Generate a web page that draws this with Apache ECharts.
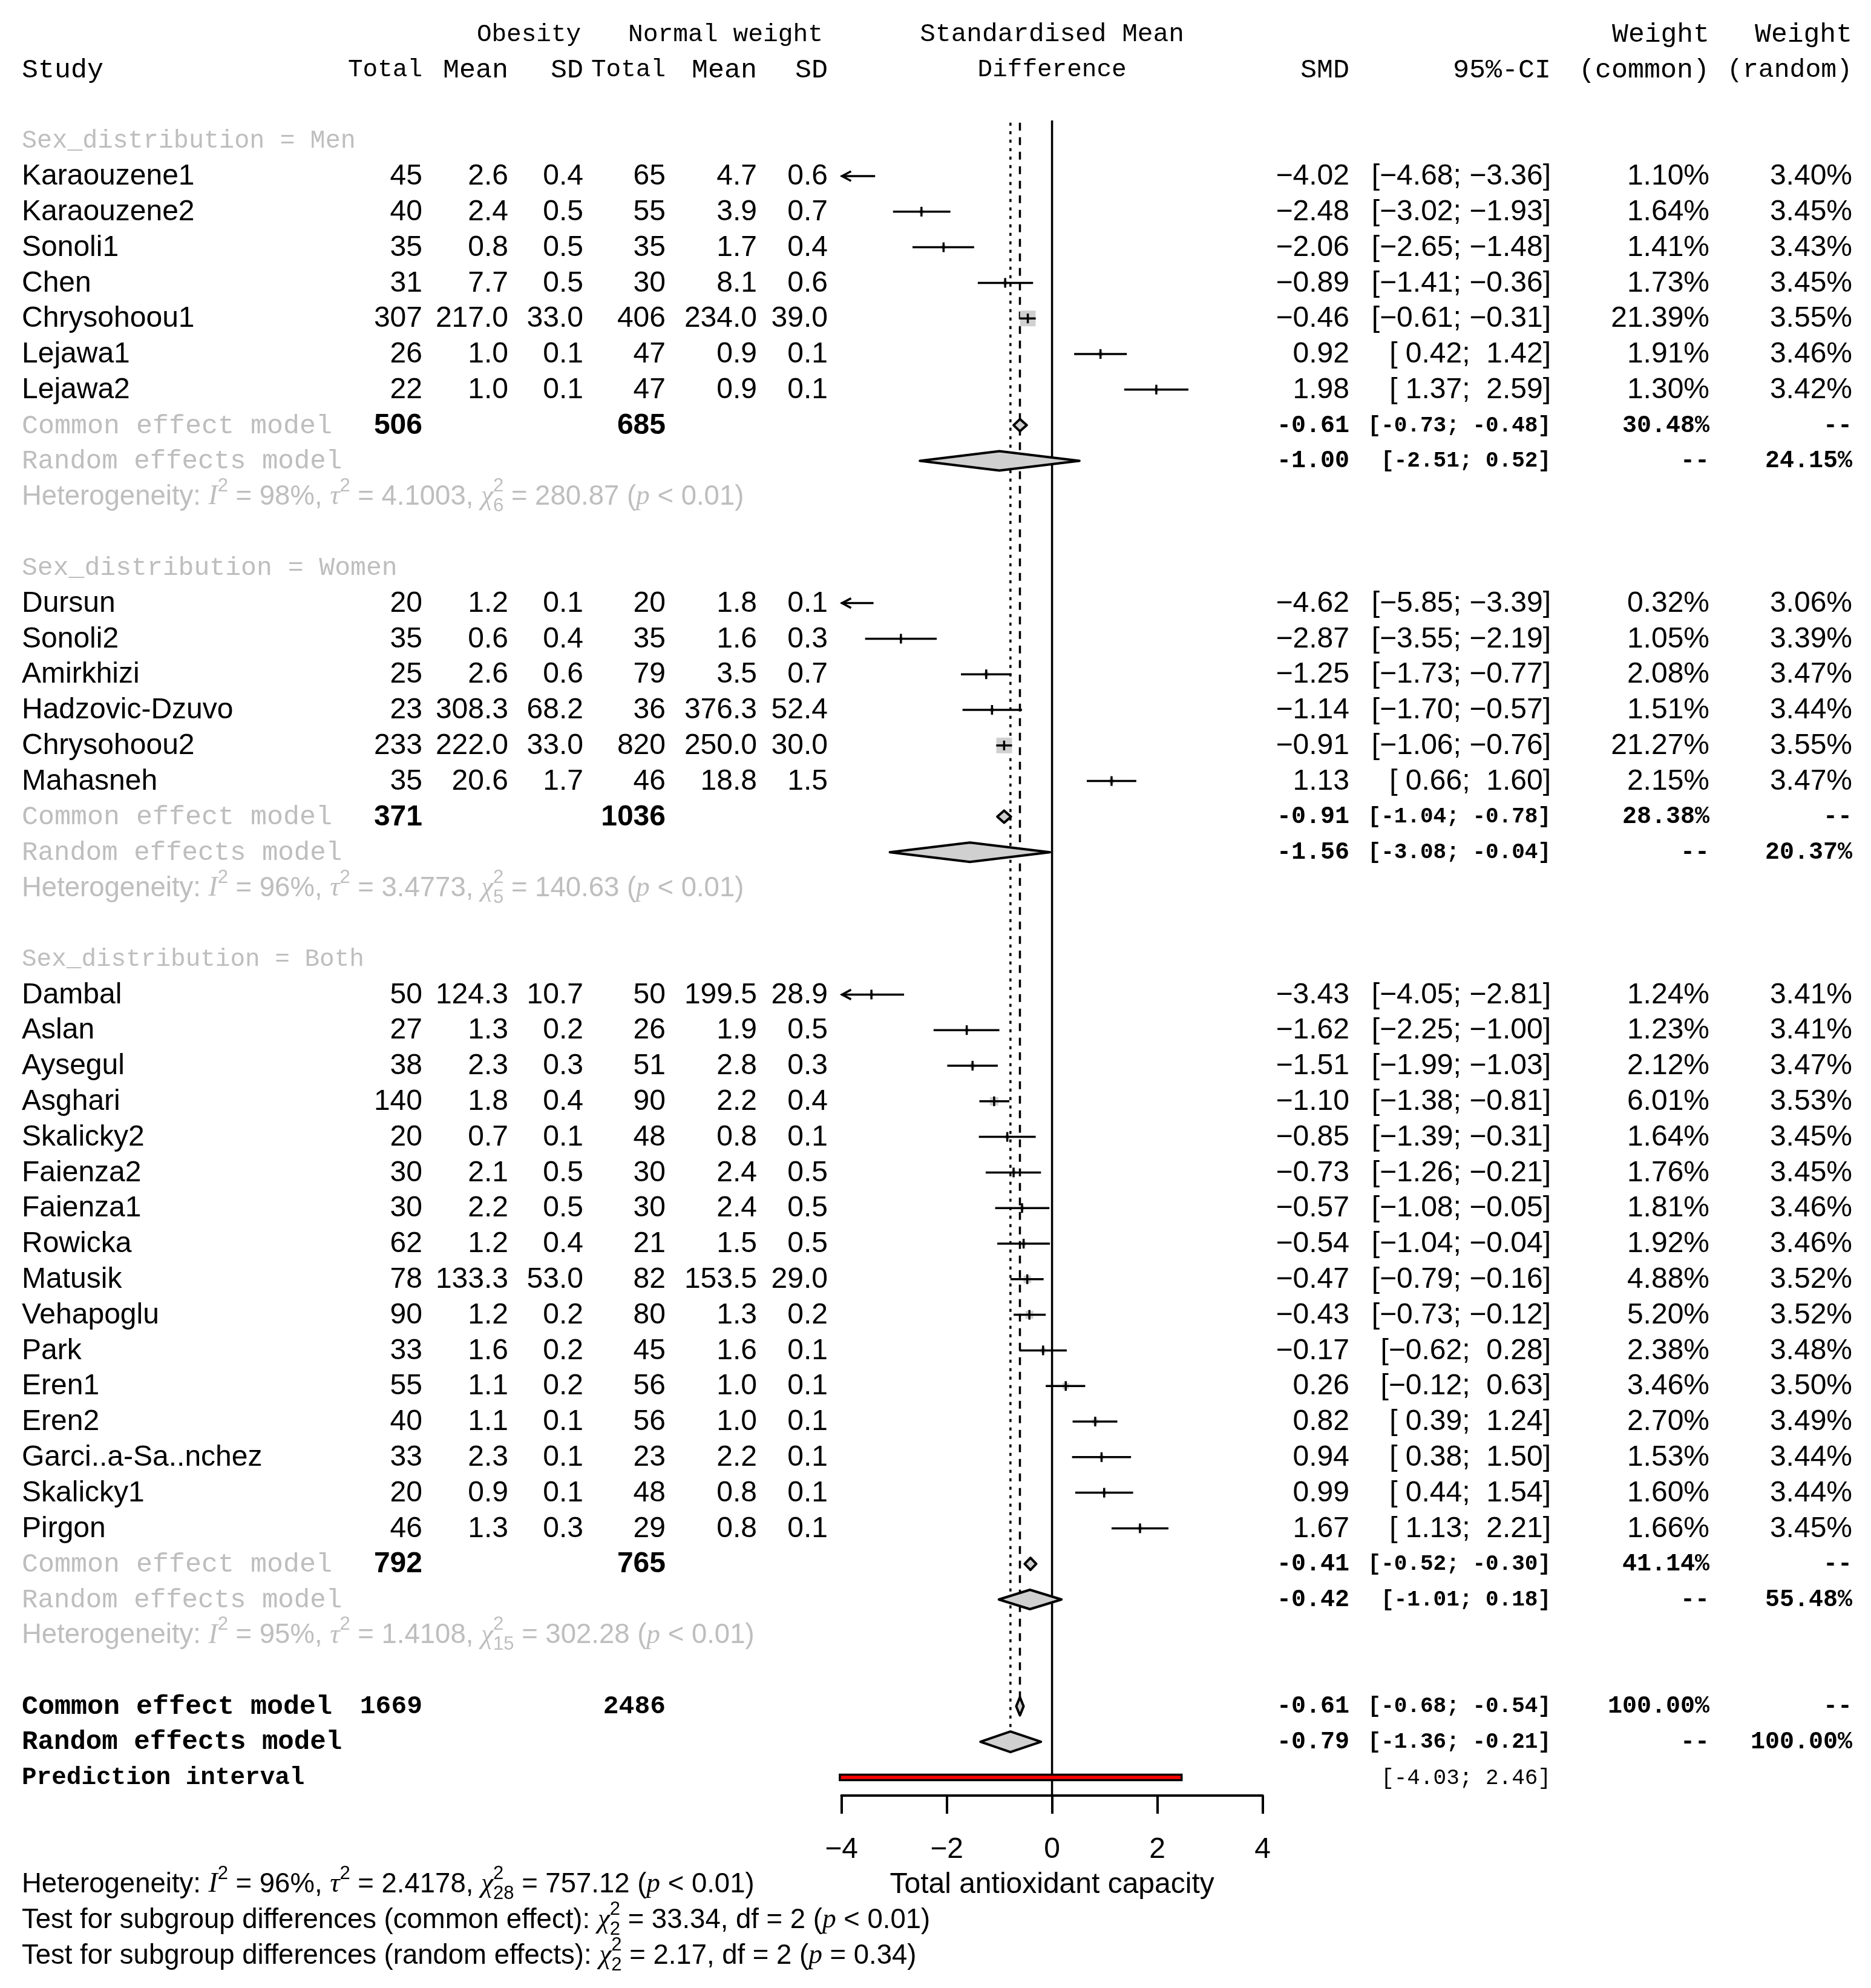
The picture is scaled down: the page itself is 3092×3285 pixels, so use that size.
<!DOCTYPE html>
<html><head><meta charset="utf-8">
<script src="https://cdn.jsdelivr.net/npm/echarts@6/dist/echarts.min.js"></script>
<style>html,body{margin:0;padding:0;background:#fff}#c{width:3092px;height:3285px}</style>
</head><body><div id="c"></div>
<script>
// ---------------- DATA ----------------
const studyNames = ['Karaouzene1','Karaouzene2','Sonoli1','Chen','Chrysohoou1','Lejawa1','Lejawa2',
  'Dursun','Sonoli2','Amirkhizi','Hadzovic-Dzuvo','Chrysohoou2','Mahasneh',
  'Dambal','Aslan','Aysegul','Asghari','Skalicky2','Faienza2','Faienza1','Rowicka','Matusik','Vehapoglu','Park','Eren1','Eren2','Garci..a-Sa..nchez','Skalicky1','Pirgon'];
const studyGroup = [0,0,0,0,0,0,0, 1,1,1,1,1,1, 2,2,2,2,2,2,2,2,2,2,2,2,2,2,2,2];
const obsTotal = [45,40,35,31,307,26,22, 20,35,25,23,233,35, 50,27,38,140,20,30,30,62,78,90,33,55,40,33,20,46];
const obsMean = [2.6,2.4,0.8,7.7,217.0,1.0,1.0, 1.2,0.6,2.6,308.3,222.0,20.6, 124.3,1.3,2.3,1.8,0.7,2.1,2.2,1.2,133.3,1.2,1.6,1.1,1.1,2.3,0.9,1.3];
const obsSD = [0.4,0.5,0.5,0.5,33.0,0.1,0.1, 0.1,0.4,0.6,68.2,33.0,1.7, 10.7,0.2,0.3,0.4,0.1,0.5,0.5,0.4,53.0,0.2,0.2,0.2,0.1,0.1,0.1,0.3];
const nwTotal = [65,55,35,30,406,47,47, 20,35,79,36,820,46, 50,26,51,90,48,30,30,21,82,80,45,56,56,23,48,29];
const nwMean = [4.7,3.9,1.7,8.1,234.0,0.9,0.9, 1.8,1.6,3.5,376.3,250.0,18.8, 199.5,1.9,2.8,2.2,0.8,2.4,2.4,1.5,153.5,1.3,1.6,1.0,1.0,2.2,0.8,0.8];
const nwSD = [0.6,0.7,0.4,0.6,39.0,0.1,0.1, 0.1,0.3,0.7,52.4,30.0,1.5, 28.9,0.5,0.3,0.4,0.1,0.5,0.5,0.5,29.0,0.2,0.1,0.1,0.1,0.1,0.1,0.1];
const smd = [-4.02,-2.48,-2.06,-0.89,-0.46,0.92,1.98, -4.62,-2.87,-1.25,-1.14,-0.91,1.13, -3.43,-1.62,-1.51,-1.10,-0.85,-0.73,-0.57,-0.54,-0.47,-0.43,-0.17,0.26,0.82,0.94,0.99,1.67];
const smdLower = [-4.68,-3.02,-2.65,-1.41,-0.61,0.42,1.37, -5.85,-3.55,-1.73,-1.70,-1.06,0.66, -4.05,-2.25,-1.99,-1.38,-1.39,-1.26,-1.08,-1.04,-0.79,-0.73,-0.62,-0.12,0.39,0.38,0.44,1.13];
const smdUpper = [-3.36,-1.93,-1.48,-0.36,-0.31,1.42,2.59, -3.39,-2.19,-0.77,-0.57,-0.76,1.60, -2.81,-1.00,-1.03,-0.81,-0.31,-0.21,-0.05,-0.04,-0.16,-0.12,0.28,0.63,1.24,1.50,1.54,2.21];
const weightCommon = [1.10,1.64,1.41,1.73,21.39,1.91,1.30, 0.32,1.05,2.08,1.51,21.27,2.15, 1.24,1.23,2.12,6.01,1.64,1.76,1.81,1.92,4.88,5.20,2.38,3.46,2.70,1.53,1.60,1.66];
const weightRandom = [3.40,3.45,3.43,3.45,3.55,3.46,3.42, 3.06,3.39,3.47,3.44,3.55,3.47, 3.41,3.41,3.47,3.53,3.45,3.45,3.46,3.46,3.52,3.52,3.48,3.50,3.49,3.44,3.44,3.45];

const groupLabels = ['Men','Women','Both'];
const groupObsTotal = [506,371,792];
const groupNwTotal = [685,1036,765];
const groupCommonSMD = [-0.61,-0.91,-0.41];
const groupCommonLower = [-0.73,-1.04,-0.52];
const groupCommonUpper = [-0.48,-0.78,-0.30];
const groupCommonWeight = [30.48,28.38,41.14];
const groupRandomSMD = [-1.00,-1.56,-0.42];
const groupRandomLower = [-2.51,-3.08,-1.01];
const groupRandomUpper = [0.52,-0.04,0.18];
const groupRandomWeight = [24.15,20.37,55.48];
const groupI2 = [98,96,95];
const groupTau2 = [4.1003,3.4773,1.4108];
const groupQ = [280.87,140.63,302.28];
const groupDf = [6,5,15];

const overallTotals = [1669,2486];
const overallCommon = [-0.61,-0.68,-0.54];
const overallRandom = [-0.79,-1.36,-0.21];
const predictionInterval = [-4.03,2.46];
const overallHet = {i2:96, tau2:2.4178, q:757.12, df:28, p:'< 0.01'};
const testCommon = {q:33.34, df:2, p:'< 0.01'};
const testRandom = {q:2.17, df:2, p:'= 0.34'};
const xTicks = [-4,-2,0,2,4];
const xAxisTitle = 'Total antioxidant capacity';

// ---------------- LAYOUT / STYLE ----------------
const SANS = '"Liberation Sans", Arial, sans-serif';
const MONO = '"Liberation Mono", "DejaVu Sans Mono", monospace';
const SERIF = '"Liberation Serif", serif';
const GREY = '#BEBEBE', BLACK = '#000000', FILL = '#D0D0D0';
const FS = 48, HFS = 45.5, SUPS = 31;
const F_SANS = FS + 'px ' + SANS, F_SANSB = 'bold ' + FS + 'px ' + SANS;
const F_NUMB = 'bold 40px ' + MONO, F_CIB = 'bold 36px ' + MONO, F_CI = '36px ' + MONO, F_TOTB = 'bold 43px ' + MONO;
const F_HET = HFS + 'px ' + SANS;
const GRID_TOP = 55.8, ROW = 58.8, AXIS_Y = 2967;
const Y_MAX = (AXIS_Y - GRID_TOP) / ROW;
const COL = {study:36, eTot:698, eMean:840, eSD:964, cTot:1100, cMean:1251, cSD:1368,
  obsHead:874, nwHead:1199, mid:1738.6, smd:2230, ci:2563, wc:2825, wr:3061};
const XMIN = xTicks[0], XMAX = xTicks[xTicks.length-1];

// label font: monospace sized so the string spans roughly like the original half/full-width glyph font
const WIDE = 'MWmSRC%';
function labFont(t, bold){
  let em = 0; for (const c of t) em += WIDE.indexOf(c) >= 0 ? 1 : 0.5;
  let s = 46 * em / (0.6 * t.length); s = Math.max(41, Math.min(45, s));
  return (bold ? 'bold ' : '') + s.toFixed(1) + 'px ' + MONO;
}

const mctx = document.createElement('canvas').getContext('2d');
function mw(t, font){ mctx.font = font; return mctx.measureText(t).width; }
const fmtS = v => (v < 0 ? '\u2212' : ' ') + Math.abs(v).toFixed(2);
const fmtCI = (lo, hi) => '[' + fmtS(lo) + '; ' + fmtS(hi) + ']';
const fmtSMD = v => (v < 0 ? '\u2212' : '') + Math.abs(v).toFixed(2);
const fmtM = v => (v < 0 ? '-' : '') + Math.abs(v).toFixed(2);
const fmtMCI = (lo, hi) => '[' + fmtM(lo) + '; ' + fmtM(hi) + ']';

function cell(t, x, align, font, color){ return {t, x, align, font, color: color || BLACK}; }
function lab(t, x, align, color, bold){ return cell(t, x, align, labFont(t, bold), color); }
function hetSegs(prefix, i2, tau2, q, df, p){
  return [{t:prefix},{t:'I',it:1},{sup:'2'},{t:' = '+i2+'%, '},{t:'\u03c4',it:1},{sup:'2'},
    {t:' = '+tau2.toFixed(4)+', '},{t:'\u03c7',it:1},{sup:'2',sub:String(df)},
    {t:' = '+q.toFixed(2)+' ('},{t:'p',it:1},{t:' '+p+')'}];
}
function testSegs(prefix, q, df, p){
  return [{t:prefix},{t:'\u03c7',it:1},{sup:'2',sub:String(df)},
    {t:' = '+q.toFixed(2)+', df = '+df+' ('},{t:'p',it:1},{t:' '+p+')'}];
}

// Build table rows
const rows = [];
const studyRow = [];
const diamonds = []; // [k, est, lo, hi, type]
rows.push({k:0, cells:[lab('Obesity',COL.obsHead,'center'), lab('Normal weight',COL.nwHead,'center'),
  lab('Standardised Mean',COL.mid,'center'), lab('Weight',COL.wc,'right'), lab('Weight',COL.wr,'right')]});
rows.push({k:1, cells:[lab('Study',COL.study,'left'), lab('Total',COL.eTot,'right'), lab('Mean',COL.eMean,'right'),
  lab('SD',COL.eSD,'right'), lab('Total',COL.cTot,'right'), lab('Mean',COL.cMean,'right'), lab('SD',COL.cSD,'right'),
  lab('Difference',COL.mid,'center'), lab('SMD',COL.smd,'right'), lab('95%-CI',COL.ci,'right'),
  lab('(common)',COL.wc,'right'), lab('(random)',COL.wr,'right')]});
let k = 3;
groupLabels.forEach((g, gi) => {
  rows.push({k:k++, cells:[lab('Sex_distribution = ' + g, COL.study, 'left', GREY)]});
  studyNames.forEach((n, i) => {
    if (studyGroup[i] !== gi) return;
    studyRow[i] = k;
    rows.push({k:k++, cells:[cell(n,COL.study,'left',F_SANS), cell(String(obsTotal[i]),COL.eTot,'right',F_SANS),
      cell(obsMean[i].toFixed(1),COL.eMean,'right',F_SANS), cell(obsSD[i].toFixed(1),COL.eSD,'right',F_SANS),
      cell(String(nwTotal[i]),COL.cTot,'right',F_SANS), cell(nwMean[i].toFixed(1),COL.cMean,'right',F_SANS),
      cell(nwSD[i].toFixed(1),COL.cSD,'right',F_SANS), cell(fmtSMD(smd[i]),COL.smd,'right',F_SANS),
      cell(fmtCI(smdLower[i],smdUpper[i]),COL.ci,'right',F_SANS), cell(weightCommon[i].toFixed(2)+'%',COL.wc,'right',F_SANS),
      cell(weightRandom[i].toFixed(2)+'%',COL.wr,'right',F_SANS)]});
  });
  diamonds.push([k, groupCommonSMD[gi], groupCommonLower[gi], groupCommonUpper[gi], 0]);
  rows.push({k:k++, cells:[lab('Common effect model',COL.study,'left',GREY), cell(String(groupObsTotal[gi]),COL.eTot,'right',F_SANSB),
    cell(String(groupNwTotal[gi]),COL.cTot,'right',F_SANSB), cell(fmtM(groupCommonSMD[gi]),COL.smd,'right',F_NUMB),
    cell(fmtMCI(groupCommonLower[gi],groupCommonUpper[gi]),COL.ci,'right',F_CIB),
    cell(groupCommonWeight[gi].toFixed(2)+'%',COL.wc,'right',F_NUMB), cell('--',COL.wr,'right',F_NUMB)]});
  diamonds.push([k, groupRandomSMD[gi], groupRandomLower[gi], groupRandomUpper[gi], 1]);
  rows.push({k:k++, cells:[lab('Random effects model',COL.study,'left',GREY), cell(fmtM(groupRandomSMD[gi]),COL.smd,'right',F_NUMB),
    cell(fmtMCI(groupRandomLower[gi],groupRandomUpper[gi]),COL.ci,'right',F_CIB),
    cell('--',COL.wc,'right',F_NUMB), cell(groupRandomWeight[gi].toFixed(2)+'%',COL.wr,'right',F_NUMB)]});
  rows.push({k:k++, rich:hetSegs('Heterogeneity: ', groupI2[gi], groupTau2[gi], groupQ[gi], groupDf[gi], '< 0.01'), x:COL.study, color:GREY});
  k++;
});
const kCommon = k, kRandom = k+1, kPred = k+2;
diamonds.push([kCommon, overallCommon[0], overallCommon[1], overallCommon[2], 2]);
diamonds.push([kRandom, overallRandom[0], overallRandom[1], overallRandom[2], 3]);
rows.push({k:kCommon, cells:[lab('Common effect model',COL.study,'left',BLACK,true), cell(String(overallTotals[0]),COL.eTot,'right',F_TOTB),
  cell(String(overallTotals[1]),COL.cTot,'right',F_TOTB), cell(fmtM(overallCommon[0]),COL.smd,'right',F_NUMB),
  cell(fmtMCI(overallCommon[1],overallCommon[2]),COL.ci,'right',F_CIB), cell('100.00%',COL.wc,'right',F_NUMB), cell('--',COL.wr,'right',F_NUMB)]});
rows.push({k:kRandom, cells:[lab('Random effects model',COL.study,'left',BLACK,true), cell(fmtM(overallRandom[0]),COL.smd,'right',F_NUMB),
  cell(fmtMCI(overallRandom[1],overallRandom[2]),COL.ci,'right',F_CIB), cell('--',COL.wc,'right',F_NUMB), cell('100.00%',COL.wr,'right',F_NUMB)]});
rows.push({k:kPred, cells:[lab('Prediction interval',COL.study,'left',BLACK,true), cell(fmtMCI(predictionInterval[0],predictionInterval[1]),COL.ci,'right',F_CI)]});
rows.push({k:kPred+3, rich:hetSegs('Heterogeneity: ', overallHet.i2, overallHet.tau2, overallHet.q, overallHet.df, overallHet.p), x:COL.study, color:BLACK});
rows.push({k:kPred+4, rich:testSegs('Test for subgroup differences (common effect): ', testCommon.q, testCommon.df, testCommon.p), x:COL.study, color:BLACK});
rows.push({k:kPred+5, rich:testSegs('Test for subgroup differences (random effects): ', testRandom.q, testRandom.df, testRandom.p), x:COL.study, color:BLACK});

function textEl(t, x, y, font, color, align){
  return {type:'text', x:x, y:y, silent:true,
    style:{text:t, font:font, fill:color, textFill:color, align:align, textAlign:align, verticalAlign:'middle', textVerticalAlign:'middle'}};
}
function richEls(segs, x0, y, color){
  let x = x0; const els = [];
  segs.forEach(s => {
    if (s.t != null) {
      const font = s.it ? ('italic ' + HFS + 'px ' + SERIF) : F_HET;
      els.push(textEl(s.t, x, y, font, color, 'left'));
      x += mw(s.t, font);
    } else {
      const font = SUPS + 'px ' + SANS; let w = 0;
      if (s.sup) { els.push(textEl(s.sup, x, y - 18, font, color, 'left')); w = Math.max(w, mw(s.sup, font)); }
      if (s.sub) { els.push(textEl(s.sub, x, y + 15, font, color, 'left')); w = Math.max(w, mw(s.sub, font)); }
      x += w;
    }
  });
  return els;
}

const studyData = studyNames.map((n, i) => [studyRow[i], smd[i], smdLower[i], smdUpper[i], weightCommon[i]]);
const refLines = [[0, 2.435, Y_MAX, 0], [overallCommon[0], 2.5, kCommon, 1], [overallRandom[0], 2.5, kRandom, 2]];
const DIAMOND_H = [10, 16, 15, 17];

const option = {
  animation: false,
  backgroundColor: '#ffffff',
  grid: {left: 1390.5, right: 3092 - 1390.5 - 696.2, top: GRID_TOP, bottom: 3285 - AXIS_Y, containLabel: false},
  xAxis: {type:'value', position:'bottom', min:XMIN, max:XMAX, interval:2,
    axisLine:{show:true, onZero:false, lineStyle:{color:BLACK, width:4}},
    axisTick:{show:true, length:30, lineStyle:{color:BLACK, width:4}},
    axisLabel:{show:true, margin:66, color:BLACK, fontSize:FS, fontFamily:SANS, formatter:v => (v < 0 ? '\u2212' + Math.abs(v) : String(v))},
    splitLine:{show:false},
    name:xAxisTitle, nameLocation:'middle', nameGap:124, nameTextStyle:{color:BLACK, fontSize:FS, fontFamily:SANS}},
  yAxis: {type:'value', inverse:true, min:0, max:Y_MAX, show:false, splitLine:{show:false}},
  series: [
    { type:'custom', name:'refLines', clip:false, silent:true, data:refLines,
      renderItem:(p, api) => {
        const x = api.value(0), t = api.value(3);
        const top = api.coord([x, api.value(1)]);
        const bot = api.coord([x, api.value(2)]);
        let y2 = bot[1];
        if (t === 1) y2 -= DIAMOND_H[2] * 0.2;
        if (t === 2) y2 -= DIAMOND_H[3];
        return {type:'line', shape:{x1:top[0], y1:top[1], x2:top[0], y2:y2},
          style:{stroke:BLACK, lineWidth:3.5, lineDash: t === 0 ? null : (t === 1 ? [13, 11] : [5, 9])}};
      }},
    { type:'custom', name:'studies', clip:false, silent:true, data:studyData,
      renderItem:(p, api) => {
        const kk = api.value(0), est = api.value(1), lo = api.value(2), hi = api.value(3), w = api.value(4);
        const y = api.coord([0, kk])[1];
        const xl = api.coord([Math.max(lo, XMIN), kk])[0], xr = api.coord([Math.min(hi, XMAX), kk])[0];
        const ch = [];
        const inRange = est >= XMIN && est <= XMAX;
        const xe = api.coord([est, kk])[0];
        if (inRange) { const s = 5.6 * Math.sqrt(w); ch.push({type:'rect', shape:{x:xe - s/2, y:y - s/2, width:s, height:s}, style:{fill:FILL}}); }
        ch.push({type:'line', shape:{x1:xl, y1:y, x2:xr, y2:y}, style:{stroke:BLACK, lineWidth:3.5}});
        if (inRange) ch.push({type:'line', shape:{x1:xe, y1:y - 8, x2:xe, y2:y + 8}, style:{stroke:BLACK, lineWidth:3.5}});
        if (lo < XMIN) ch.push({type:'polyline', shape:{points:[[xl + 16, y - 8], [xl + 1, y], [xl + 16, y + 8]]}, style:{stroke:BLACK, fill:null, lineWidth:3.5}});
        if (hi > XMAX) ch.push({type:'polyline', shape:{points:[[xr - 16, y - 8], [xr - 1, y], [xr - 16, y + 8]]}, style:{stroke:BLACK, fill:null, lineWidth:3.5}});
        return {type:'group', children:ch};
      }},
    { type:'custom', name:'diamonds', clip:false, silent:true, data:diamonds,
      renderItem:(p, api) => {
        const kk = api.value(0), est = api.value(1), lo = api.value(2), hi = api.value(3), t = api.value(4);
        const y = api.coord([0, kk])[1], h = DIAMOND_H[t];
        const xe = api.coord([est, kk])[0], xl = api.coord([lo, kk])[0], xr = api.coord([hi, kk])[0];
        return {type:'polygon', shape:{points:[[xl, y], [xe, y - h], [xr, y], [xe, y + h]]}, style:{fill:FILL, stroke:BLACK, lineWidth:4, lineJoin:'round'}};
      }},
    { type:'custom', name:'prediction', clip:false, silent:true, data:[[kPred, predictionInterval[0], predictionInterval[1]]],
      renderItem:(p, api) => {
        const kk = api.value(0);
        const a = api.coord([api.value(1), kk]), b = api.coord([api.value(2), kk]);
        return {type:'rect', shape:{x:a[0], y:a[1] - 4.5, width:b[0] - a[0], height:9}, style:{fill:'#FF0000', stroke:BLACK, lineWidth:3.5}};
      }},
    { type:'custom', name:'table', clip:false, silent:true, data:rows.map(r => [0, r.k]),
      renderItem:(p, api) => {
        const r = rows[p.dataIndex];
        const y = api.coord([0, api.value(1)])[1] + 1;
        const ch = r.rich ? richEls(r.rich, r.x, y, r.color) : r.cells.map(c => textEl(c.t, c.x, y, c.font, c.color, c.align));
        return {type:'group', children:ch};
      }}
  ]
};
const chart = echarts.init(document.getElementById('c'), null, {renderer:'canvas', width:3092, height:3285});
chart.setOption(option);
</script></body></html>
